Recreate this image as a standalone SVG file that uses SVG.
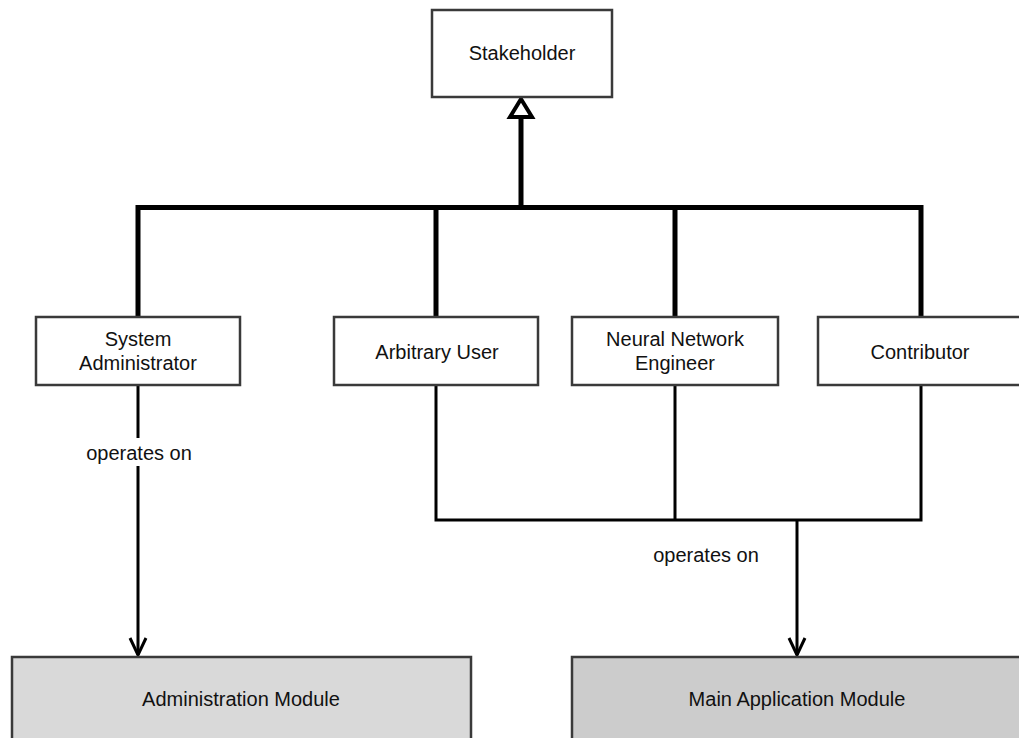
<svg xmlns="http://www.w3.org/2000/svg" width="1019" height="738" viewBox="0 0 1019 738">
  <style>
    .box { fill: #ffffff; stroke: #3a3a3a; stroke-width: 2.5; }
    .mod1 { fill: #d9d9d9; stroke: #3a3a3a; stroke-width: 2.5; }
    .mod2 { fill: #cccccc; stroke: #3a3a3a; stroke-width: 2.5; }
    .lbl { font-family: "Liberation Sans", Arial, sans-serif; font-size: 20px; fill: #111; text-anchor: middle; }
    .thick { fill: none; stroke: #000; stroke-width: 5; stroke-linejoin: miter; }
    .thin { fill: none; stroke: #000; stroke-width: 3; stroke-linejoin: miter; }
  </style>
  <defs>
    <marker id="open" viewBox="0 0 20 20" refX="18" refY="10" markerWidth="20" markerHeight="20" markerUnits="userSpaceOnUse" orient="auto">
      <path d="M1,2 L18,10 L1,18" fill="none" stroke="#000" stroke-width="3"/>
    </marker>
  </defs>
  <rect width="1019" height="738" fill="#ffffff"/>

  <g id="connectors">
    <path class="thick" d="M138,317 V207.5 H921 V317 M436,207.5 V317 M675,207.5 V317 M521,207.5 V116"/>
    <polygon points="521,99 510,117 532,117" fill="#ffffff" stroke="#000" stroke-width="4" stroke-linejoin="miter"/>
    <path class="thin" d="M138,385 V655" marker-end="url(#open)"/>
    <path class="thin" d="M436,385 V520 H921 V385 M675,385 V520"/>
    <path class="thin" d="M797,520 V655" marker-end="url(#open)"/>
    <rect x="84" y="438" width="110" height="28" fill="#ffffff"/>
    <text class="lbl" x="139" y="460">operates on</text>
    <rect x="650" y="541" width="112" height="28" fill="#ffffff" opacity="0"/>
    <text class="lbl" x="706" y="562">operates on</text>
  </g>

  <g id="stakeholder">
    <rect class="box" x="432" y="10" width="180" height="87"/>
    <text class="lbl" x="522" y="60">Stakeholder</text>
  </g>
  <g id="system-administrator">
    <rect class="box" x="36" y="317" width="204" height="68"/>
    <text class="lbl" x="138" y="346">System</text>
    <text class="lbl" x="138" y="370">Administrator</text>
  </g>
  <g id="arbitrary-user">
    <rect class="box" x="334" y="317" width="204" height="68"/>
    <text class="lbl" x="437" y="359">Arbitrary User</text>
  </g>
  <g id="neural-network-engineer">
    <rect class="box" x="572" y="317" width="206" height="68"/>
    <text class="lbl" x="675" y="346">Neural Network</text>
    <text class="lbl" x="675" y="370">Engineer</text>
  </g>
  <g id="contributor">
    <rect class="box" x="818" y="317" width="206" height="68"/>
    <text class="lbl" x="920" y="359">Contributor</text>
  </g>
  <g id="administration-module">
    <rect class="mod1" x="12" y="657" width="459" height="100"/>
    <text class="lbl" x="241" y="706">Administration Module</text>
  </g>
  <g id="main-application-module">
    <rect class="mod2" x="572" y="657" width="470" height="100"/>
    <text class="lbl" x="797" y="706">Main Application Module</text>
  </g>
</svg>
